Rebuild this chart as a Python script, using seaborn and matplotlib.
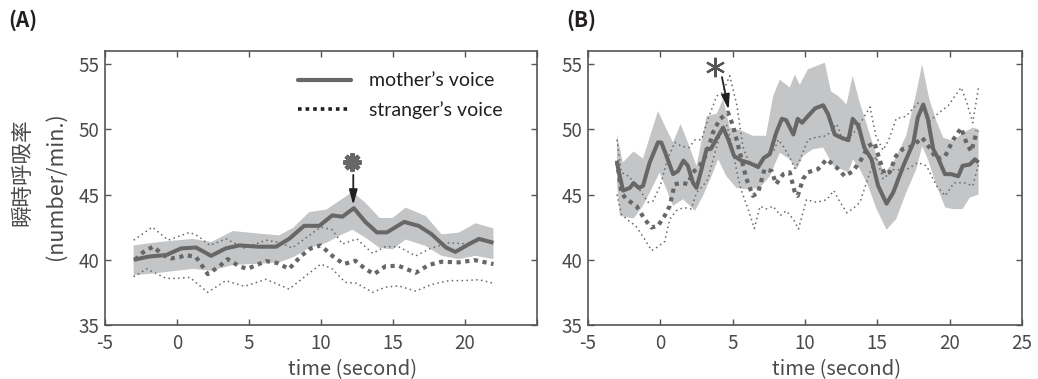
import numpy as np
import matplotlib
matplotlib.use("Agg")
import matplotlib.pyplot as plt
import seaborn as sns
from matplotlib.lines import Line2D

# ---------------- Panel A data ----------------
A_t_mother = [-3, -1.9, -0.74, 0.3, 1.34, 2.38, 3.4, 4.34, 5.7, 6.9, 7.8, 8.85, 9.9, 10.8,
              11.5, 12.3, 13.1, 13.9, 14.6, 15.8, 16.8, 17.7, 18.7, 19.35, 20.3, 21.0, 22.0]
A_mother = [40.0, 40.25, 40.36, 40.87, 40.94, 40.3, 40.87, 41.1, 41.0, 41.0, 41.6, 42.6, 42.6, 43.4,
            43.3, 43.95, 42.9, 42.1, 42.1, 42.9, 42.6, 41.96, 40.94, 40.6, 41.2, 41.6, 41.3]

A_t_band = [-3, -1.2, 1.1, 2.4, 3.9, 5.75, 7.1, 8.1, 9.2, 10.4, 11.5, 12.2, 13.1, 14.1, 15.0,
            15.9, 17.3, 18.4, 19.6, 20.75, 22.0]
A_band_hi = [41.1, 41.36, 41.6, 41.36, 42.2, 42.0, 41.87, 42.46, 43.65, 43.85, 44.67, 45.2, 44.37,
             43.2, 43.2, 44.0, 43.35, 41.95, 42.08, 42.8, 42.4]
A_band_lo = [38.8, 39.0, 39.3, 39.15, 39.6, 39.7, 39.8, 40.2, 40.9, 41.3, 41.95, 42.3, 41.7,
             40.9, 40.8, 41.55, 41.05, 40.3, 40.05, 40.3, 40.05]

A_t_str = [-2.9, -2.36, -1.66, -0.85, -0.4, 0.18, 0.65, 1.34, 2.15, 2.96, 3.53, 4.34, 4.9, 6.2,
           7.0, 7.8, 8.6, 9.3, 10.0, 10.8, 11.6, 12.4, 13.1, 13.7, 14.5, 15.4, 16.6, 17.5, 18.4,
           19.6, 20.7, 22.0]
A_str = [40.0, 40.56, 41.0, 40.3, 40.1, 40.2, 40.36, 40.2, 38.9, 39.5, 40.05, 39.5, 39.3, 39.9,
         39.74, 39.3, 40.25, 40.87, 41.1, 40.3, 39.67, 39.92, 39.3, 38.9, 39.5, 39.54, 39.0, 39.6,
         39.85, 39.8, 39.97, 39.67]

A_t_str_hi = [-3, -1.7, -0.6, 0.9, 1.5, 2.3, 3.4, 4.7, 6.2, 7.2, 8.0, 9.0, 10.0, 10.8, 11.5,
              12.5, 13.6, 14.5, 15.4, 16.6, 17.7, 18.9, 20.3, 21.1, 22.0]
A_str_hi = [41.5, 42.5, 41.5, 42.1, 41.8, 41.1, 41.6, 40.9, 41.5, 41.3, 40.9, 41.7, 42.5, 42.3,
            41.2, 41.6, 40.5, 41.0, 41.0, 40.3, 40.9, 41.3, 41.2, 41.5, 41.35]

A_t_str_lo = [-3, -2.1, -0.74, 0.0, 0.9, 2.15, 3.4, 4.7, 6.2, 7.8, 9.0, 10.0, 10.8, 11.7, 12.5,
              13.6, 14.5, 15.4, 16.6, 17.7, 18.9, 20.0, 21.0, 22.0]
A_str_lo = [38.7, 39.3, 38.57, 38.57, 38.65, 37.5, 38.4, 37.96, 38.5, 37.75, 38.8, 39.67, 39.3,
            38.27, 38.2, 37.5, 37.9, 38.0, 37.6, 38.1, 38.4, 38.4, 38.47, 38.2]

# ---------------- Panel B data ----------------
B_t_mother = [-3.0, -2.8, -2.58, -2.12, -1.85, -1.48, -1.2, -0.74, -0.16, 0.07, 0.42, 0.88, 1.22,
              1.6, 1.9, 2.26, 2.5, 2.84, 3.2, 3.5, 3.9, 4.34, 4.7, 5.1, 5.6, 6.2, 6.76, 7.15, 7.57,
              8.0, 8.4, 8.7, 9.2, 9.5, 9.8, 10.2, 10.7, 11.26, 11.6, 12.06, 12.5, 13.0, 13.3, 13.7,
              14.1, 14.6, 15.06, 15.64, 16.1, 16.8, 17.5, 17.8, 18.18, 18.5, 18.87, 19.2, 19.68,
              20.1, 20.6, 20.9, 21.4, 21.75, 22.0]
B_mother = [47.45, 46.4, 45.3, 45.5, 45.87, 45.5, 45.66, 47.45, 49.0, 48.98, 47.96, 46.56, 46.8,
            47.6, 47.2, 45.9, 45.5, 46.9, 48.5, 48.5, 49.3, 50.13, 49.2, 47.96, 47.6, 47.4, 47.1,
            47.8, 48.1, 49.7, 50.8, 50.7, 49.6, 50.8, 50.5, 51.0, 51.6, 51.84, 51.15, 49.6, 49.36,
            49.16, 50.8, 50.26, 48.6, 47.7, 45.66, 44.3, 45.15, 47.2, 48.98, 50.9, 51.9, 50.77,
            48.47, 47.8, 46.56, 46.56, 46.4, 47.2, 47.3, 47.7, 47.45]

B_t_band_hi = [-3.0, -2.6, -1.85, -1.2, -0.16, 0.42, 0.88, 1.4, 1.9, 2.5, 3.2, 3.9, 4.34, 4.8, 5.6,
               6.4, 7.3, 7.8, 8.26, 8.95, 9.3, 9.64, 10.2, 10.8, 11.37, 11.8, 12.3, 12.87, 13.3,
               13.8, 14.26, 14.95, 15.5, 16.1, 17.0, 17.7, 18.1, 18.6, 19.1, 19.56, 20.25, 20.9,
               21.6, 22.0]
B_band_hi = [49.6, 47.45, 48.3, 47.75, 51.4, 50.0, 49.0, 50.4, 49.0, 47.2, 51.0, 51.2, 52.3, 50.13,
             49.9, 49.5, 49.5, 52.55, 53.8, 53.2, 54.2, 53.4, 54.6, 54.85, 55.1, 52.9, 52.55, 51.9,
             54.1, 52.0, 50.4, 47.96, 46.68, 47.45, 49.5, 52.8, 54.97, 52.3, 50.6, 49.36, 49.1,
             49.7, 50.13, 50.0]
B_t_band_lo = [-3.0, -2.8, -1.85, -1.2, -0.5, -0.05, 0.42, 0.88, 1.57, 2.4, 2.95, 3.5, 4.0, 4.57,
               5.26, 5.95, 6.87, 7.57, 8.26, 8.95, 9.4, 9.87, 10.56, 11.26, 11.95, 12.5, 13.0,
               13.33, 13.8, 14.37, 14.95, 15.64, 16.3, 17.0, 17.7, 18.1, 18.5, 19.1, 19.7, 20.25,
               20.9, 21.4, 22.0]
B_band_lo = [45.9, 43.37, 43.16, 44.13, 45.66, 46.68, 45.4, 44.13, 44.64, 43.75, 44.9, 46.3, 47.7,
             46.4, 45.5, 45.4, 45.5, 46.4, 48.2, 47.7, 46.9, 47.96, 48.47, 48.6, 47.2, 46.94, 46.7,
             47.7, 46.94, 45.66, 43.88, 42.3, 43.1, 45.15, 46.94, 48.7, 47.7, 45.66, 44.0, 43.88,
             43.88, 44.77, 45.0]

B_t_str = [-3.0, -2.7, -2.35, -1.66, -1.08, -0.62, -0.16, 0.3, 0.65, 0.99, 1.45, 1.9, 2.26, 2.72,
           3.2, 3.64, 4.1, 4.68, 5.03, 5.5, 5.95, 6.4, 6.76, 7.2, 7.7, 8.0, 8.5, 8.95, 9.3, 9.5,
           9.87, 10.2, 10.9, 11.5, 12.2, 12.75, 13.33, 13.9, 14.37, 14.8, 15.15, 15.5, 15.85,
           16.3, 16.75, 17.45, 18.1, 18.6, 19.1, 19.7, 20.25, 20.8, 21.2, 21.5, 21.9]
B_str = [47.6, 45.15, 44.64, 44.13, 43.1, 42.47, 42.6, 43.37, 44.13, 45.78, 45.9, 45.8, 46.7,
         47.2, 48.1, 49.75, 50.77, 51.28, 50.26, 48.2, 46.2, 44.9, 45.15, 46.94, 46.8, 45.8,
         46.56, 46.7, 45.15, 44.9, 46.2, 46.7, 46.94, 47.7, 47.06, 46.4, 46.8, 47.7, 48.7, 48.98,
         47.7, 46.56, 46.7, 47.96, 48.47, 48.7, 49.36, 48.6, 47.7, 47.96, 49.2, 50.1, 48.85,
         48.3, 49.9]

B_t_str_hi = [-3, -2.7, -2.2, -1.7, -0.85, -0.5, 0.0, 0.5, 1.0, 1.45, 2.0, 2.4, 2.85, 3.3, 3.9,
              4.3, 4.8, 5.3, 5.7, 6.1, 6.5, 7.1, 7.5, 7.8, 8.15, 8.5, 9.0, 9.3, 9.6, 10.2, 10.8,
              11.5, 12.2, 12.6, 13.3, 13.9, 14.5, 14.9, 15.4, 15.8, 16.3, 17.0, 17.8, 18.2, 18.6,
              19.3, 19.9, 20.4, 20.8, 21.2, 21.6, 22.0]
B_str_hi = [49.2, 46.7, 46.4, 45.8, 44.4, 44.5, 45.7, 47.7, 49.0, 48.7, 48.6, 49.2, 49.2, 50.8,
            52.55, 52.8, 54.1, 51.8, 48.7, 47.5, 47.2, 47.7, 48.2, 48.2, 49.2, 48.7, 47.7, 47.0,
            47.5, 49.2, 49.4, 49.5, 50.4, 49.2, 49.6, 50.6, 51.7, 49.5, 48.4, 49.2, 50.8, 51.0,
            52.0, 51.9, 50.6, 51.3, 51.8, 52.6, 53.2, 52.0, 50.5, 53.2]

B_t_str_lo = [-3, -2.7, -2.2, -1.7, -1.1, -0.6, -0.3, 0.3, 0.65, 1.1, 1.6, 2.15, 2.5, 2.95, 3.3,
              3.65, 4.1, 4.6, 4.9, 5.3, 5.6, 6.0, 6.5, 6.9, 7.3, 7.8, 8.3, 8.7, 9.2, 9.55, 10.1,
              10.8, 11.5, 12.0, 12.3, 12.9, 13.3, 13.8, 14.4, 14.9, 15.4, 16.1, 17.0, 17.8, 18.4,
              19.1, 19.7, 20.3, 21.0, 21.6, 22.0]
B_str_lo = [45.0, 43.5, 43.0, 42.6, 41.6, 40.7, 40.9, 41.4, 43.1, 43.75, 44.0, 43.9, 45.15, 45.66,
            46.2, 47.7, 49.5, 50.3, 49.0, 46.7, 45.3, 44.1, 42.4, 44.1, 43.9, 44.1, 43.4, 43.75,
            43.1, 42.35, 44.6, 44.4, 44.6, 45.3, 44.64, 43.6, 43.9, 44.4, 46.4, 47.9, 46.2, 46.9,
            46.9, 47.45, 47.2, 45.66, 44.9, 45.9, 45.9, 45.66, 47.3]

# annotations (asterisk position, arrow start, arrow end)
A_star = (12.2, 47.5)
A_arrow = ((12.26, 46.5), (12.26, 44.2))
B_star = (3.77, 54.8)
B_arrow = ((4.26, 54.0), (4.72, 51.5))

x_ticks = [-5, 0, 5, 10, 15, 20, 25]
A_xticklabels = ["-5", "0", "5", "10", "15", "20", ""]
B_xticklabels = ["-5", "0", "5", "10", "15", "20", "25"]
y_ticks = [35, 40, 45, 50, 55]
legend_labels = ["mother\u2019s voice", "stranger\u2019s voice"]
x_label = "time (second)"
y_label_1 = "瞬時呼吸率"
y_label_2 = "(number/min.)"

# ---------------- styling ----------------
sns.set_style("ticks")
plt.rcParams["font.family"] = ["Noto Sans CJK TC", "DejaVu Sans"]

LINE = "#676767"
BAND = "#c4c5c7"
TXT = "#4a4a4a"
DARK = "#231f20"
SPINE = "#555555"

fig = plt.figure(figsize=(10.38, 3.79), dpi=100)
axA = fig.add_axes([0.101, 0.1425, 0.416, 0.723])
axB = fig.add_axes([0.5665, 0.1425, 0.418, 0.723])


def draw(ax, tbh, bh, tbl, bl, tm, m, ts, s, tsh, sh, tsl, sl):
    tbh, bh, tbl, bl = map(np.asarray, (tbh, bh, tbl, bl))
    ax.fill(np.concatenate([tbh, tbl[::-1]]), np.concatenate([bh, bl[::-1]]),
            color=BAND, lw=0, zorder=1)
    sns.lineplot(x=tsh, y=sh, ax=ax, color=LINE, lw=1.1, linestyle=(0, (1, 2.2)),
                 zorder=2, legend=False, estimator=None)
    sns.lineplot(x=tsl, y=sl, ax=ax, color=LINE, lw=1.1, linestyle=(0, (1, 2.2)),
                 zorder=2, legend=False, estimator=None)
    sns.lineplot(x=ts, y=s, ax=ax, color=LINE, lw=3.0, linestyle=(0, (1, 1.1)),
                 zorder=3, legend=False, estimator=None, dash_capstyle="butt")
    sns.lineplot(x=tm, y=m, ax=ax, color=LINE, lw=2.9, zorder=4, legend=False,
                 estimator=None, solid_capstyle="butt")


draw(axA, A_t_band, A_band_hi, A_t_band, A_band_lo, A_t_mother, A_mother, A_t_str, A_str,
     A_t_str_hi, A_str_hi, A_t_str_lo, A_str_lo)
draw(axB, B_t_band_hi, B_band_hi, B_t_band_lo, B_band_lo, B_t_mother, B_mother, B_t_str, B_str,
     B_t_str_hi, B_str_hi, B_t_str_lo, B_str_lo)

for ax, labels in ((axA, A_xticklabels), (axB, B_xticklabels)):
    ax.set_xlim(-5, 25)
    ax.set_ylim(35, 56)
    ax.set_xticks(x_ticks)
    ax.set_xticklabels(labels)
    ax.set_yticks(y_ticks)
    ax.tick_params(direction="in", top=True, right=True, length=4, width=1.0,
                   color=SPINE, labelcolor=TXT, labelsize=13.5)
    ax.tick_params(axis="x", pad=6)
    ax.tick_params(axis="y", pad=4)
    for sp in ax.spines.values():
        sp.set_visible(True)
        sp.set_color(SPINE)
        sp.set_linewidth(1.2)
    ax.set_xlabel(x_label, fontsize=14.5, color=TXT, labelpad=0)
    ax.xaxis.set_label_coords(0.573, -0.125)
    ax.set_ylabel("")

# asterisks and arrows
axA.plot([A_star[0]], [A_star[1]], marker=(8, 2, 0), ms=13, mew=3.2, color=LINE, zorder=6)
axA.annotate("", xy=A_arrow[1], xytext=A_arrow[0],
             arrowprops=dict(arrowstyle="-|>,head_length=0.9,head_width=0.25", color=DARK,
                             lw=1.3, shrinkA=0, shrinkB=0), zorder=6)
axB.plot([B_star[0]], [B_star[1]], marker=(6, 2, 0), ms=14, mew=1.6, color="#555555", zorder=6)
axB.annotate("", xy=B_arrow[1], xytext=B_arrow[0],
             arrowprops=dict(arrowstyle="-|>,head_length=0.9,head_width=0.25", color=DARK,
                             lw=1.3, shrinkA=0, shrinkB=0), zorder=6)

# legend
handles = [Line2D([0], [0], color=LINE, lw=3.0),
           Line2D([0], [0], color=DARK, lw=2.6, linestyle=(0, (1, 1.1)), dash_capstyle="butt")]
leg = axA.legend(handles, legend_labels, loc="upper left", bbox_to_anchor=(0.43, 0.95),
                 frameon=False, prop={"family": ["Lato", "DejaVu Sans"], "size": 14},
                 handlelength=2.7, handletextpad=0.95, labelspacing=0.6, borderaxespad=0)
for txt in leg.get_texts():
    txt.set_color(DARK)

# y label (two lines) and panel labels
fig.text(22 / 1038, 1 - 172 / 379, y_label_1, rotation=90, ha="center", va="center",
         fontsize=15.5, color=TXT)
fig.text(56 / 1038, 1 - 186 / 379, y_label_2, rotation=90, ha="center", va="center",
         fontsize=15.5, color=TXT)
fig.text(8 / 1038, 1 - 20 / 379, "(A)", ha="left", va="center", fontsize=15,
         fontweight="bold", color=DARK)
fig.text(566 / 1038, 1 - 20 / 379, "(B)", ha="left", va="center", fontsize=15,
         fontweight="bold", color=DARK)

fig.savefig("out.png", dpi=100)
